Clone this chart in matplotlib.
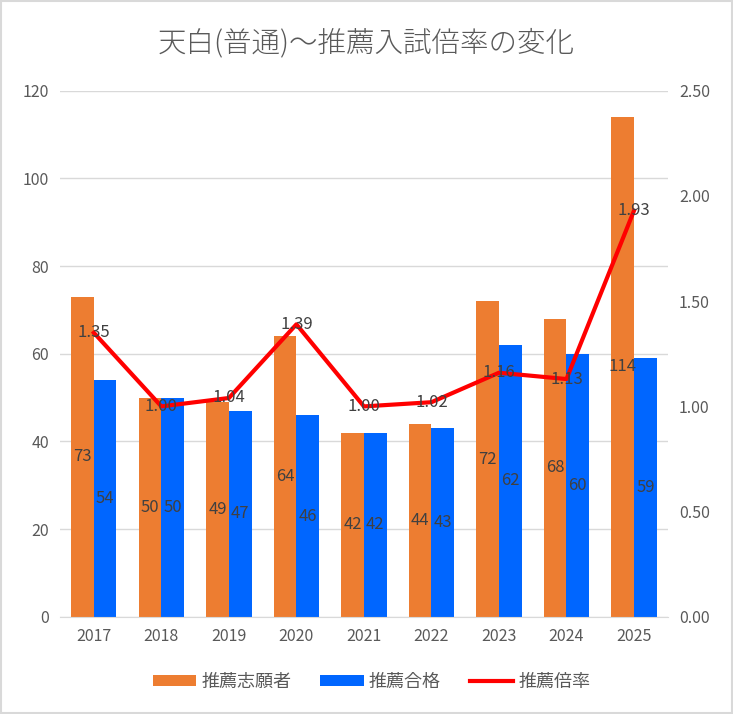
import numpy as np
import matplotlib.pyplot as plt
from matplotlib.patches import Rectangle

plt.rcParams['font.family'] = ['Noto Sans CJK JP', 'DejaVu Sans']

# データ
years = ['2017', '2018', '2019', '2020', '2021', '2022', '2023', '2024', '2025']
applicants = [73, 50, 49, 64, 42, 44, 72, 68, 114]
passed = [54, 50, 47, 46, 42, 43, 62, 60, 59]
rates = [1.35, 1.00, 1.04, 1.39, 1.00, 1.02, 1.16, 1.13, 1.93]

orange = '#ED7D31'
blue = '#0066FF'
red = '#FF0000'
text_gray = '#595959'
label_gray = '#404040'

fig = plt.figure(figsize=(7.33, 7.14), dpi=100)
fig.patches.append(Rectangle((0.001, 0.001), 0.997, 0.997, transform=fig.transFigure,
                             fill=False, edgecolor='#D9D9D9', linewidth=1.5))
ax = fig.add_axes([0.082, 0.136, 0.829, 0.737])
ax2 = ax.twinx()

x = np.arange(len(years))
w = 0.335
b1 = ax.bar(x - w / 2, applicants, w, color=orange, label='推薦志願者', zorder=2)
b2 = ax.bar(x + w / 2, passed, w, color=blue, label='推薦合格', zorder=2)

for rects in (b1, b2):
    for r in rects:
        h = r.get_height()
        ax.text(r.get_x() + r.get_width() / 2, h / 2, f'{h:.0f}', ha='center', va='center',
                fontsize=12, color=label_gray, zorder=3)

ax.set_ylim(0, 120)
ax.set_yticks(range(0, 121, 20))
ax.set_xlim(-0.5, len(years) - 0.5)
ax.set_xticks(x)
ax.set_xticklabels(years)
ax.grid(axis='y', color='#D9D9D9', linewidth=1, zorder=0)
ax.set_axisbelow(True)

ln, = ax2.plot(x, rates, color=red, linewidth=3, label='推薦倍率', zorder=4)
for xi, r in zip(x, rates):
    ax2.text(xi, r, f'{r:.2f}', ha='center', va='center', fontsize=12, color=label_gray, zorder=5)
ax2.set_ylim(0, 2.5)
ax2.set_yticks(np.arange(0, 2.51, 0.5))
ax2.set_yticklabels([f'{v:.2f}' for v in np.arange(0, 2.51, 0.5)])

for a in (ax, ax2):
    for s in a.spines.values():
        s.set_visible(False)
    a.tick_params(length=0, labelsize=11.5, labelcolor=text_gray, pad=8)
ax.spines['bottom'].set_visible(True)
ax.spines['bottom'].set_color('#D9D9D9')

fig.text(0.5, 0.94, '天白(普通)～推薦入試倍率の変化', ha='center', va='center',
         fontsize=20.5, color=text_gray, fontweight='light')

handles = [b1, b2, ln]
fig.legend(handles, [h.get_label() for h in handles], loc='center', bbox_to_anchor=(0.507, 0.045),
           ncol=3, frameon=False, fontsize=13, labelcolor=text_gray, handlelength=2.4,
           handleheight=0.5, columnspacing=1.6, handletextpad=0.3)

fig.savefig('out.png', dpi=100)
